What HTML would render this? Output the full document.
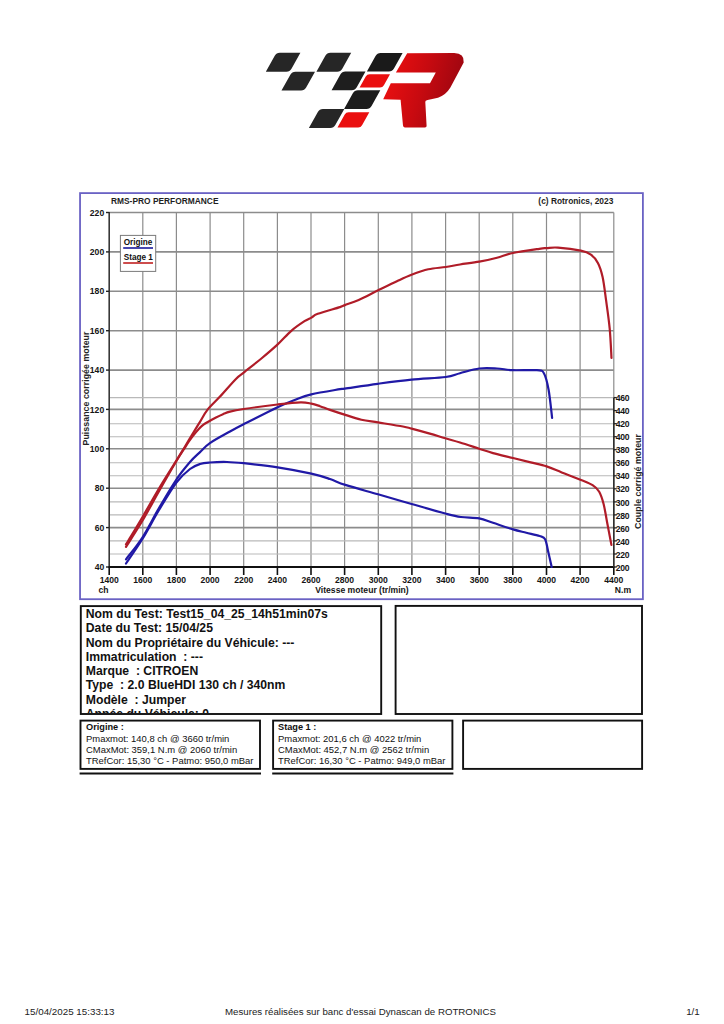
<!DOCTYPE html>
<html><head><meta charset="utf-8"><title>Dyno report</title>
<style>html,body{margin:0;padding:0;background:#fff;width:724px;height:1024px;overflow:hidden}svg{display:block;font-family:"Liberation Sans",sans-serif}</style>
</head><body>
<svg width="724" height="1024" viewBox="0 0 724 1024" font-family="Liberation Sans, sans-serif">
<defs><linearGradient id="rg" x1="0" y1="0" x2="1" y2="0.25"><stop offset="0" stop-color="#f21010"/><stop offset="0.55" stop-color="#c80a10"/><stop offset="1" stop-color="#9e0610"/></linearGradient><linearGradient id="bg" x1="0" y1="0" x2="1" y2="0"><stop offset="0" stop-color="#2c2c2c"/><stop offset="1" stop-color="#121212"/></linearGradient></defs>
<path d="M279.80,52.80 L300.40,52.80 L291.48,68.73 Q289.82,71.70 286.42,71.70 L265.82,71.70 L274.74,55.77 Q276.40,52.80 279.80,52.80 Z" fill="#262626"/>
<path d="M330.40,52.80 L351.20,52.80 L342.28,68.73 Q340.62,71.70 337.22,71.70 L316.42,71.70 L325.34,55.77 Q327.00,52.80 330.40,52.80 Z" fill="#262626"/>
<path d="M380.60,53.00 L402.60,53.00 L393.96,68.43 Q392.30,71.40 388.90,71.40 L366.90,71.40 L375.54,55.97 Q377.20,53.00 380.60,53.00 Z" fill="#1a1a1a"/>
<path d="M295.40,71.70 L315.00,71.70 L306.13,87.53 Q304.47,90.50 301.07,90.50 L281.47,90.50 L290.34,74.67 Q292.00,71.70 295.40,71.70 Z" fill="#262626"/>
<path d="M345.40,71.60 L365.50,71.60 L356.75,87.23 Q355.08,90.20 351.68,90.20 L331.58,90.20 L340.34,74.57 Q342.00,71.60 345.40,71.60 Z" fill="#1e1e1e"/>
<path d="M369.60,74.30 L390.00,74.30 L383.88,85.23 Q382.61,87.50 380.01,87.50 L359.61,87.50 L365.73,76.57 Q367.00,74.30 369.60,74.30 Z" fill="#ea0f0f"/>
<path d="M357.90,90.30 L380.30,90.30 L371.55,105.93 Q369.88,108.90 366.48,108.90 L344.08,108.90 L352.84,93.27 Q354.50,90.30 357.90,90.30 Z" fill="#1c1c1c"/>
<path d="M322.90,109.00 L344.30,109.00 L335.32,125.03 Q333.66,128.00 330.26,128.00 L308.86,128.00 L317.84,111.97 Q319.50,109.00 322.90,109.00 Z" fill="#262626"/>
<path d="M348.60,112.20 L369.30,112.20 L362.06,125.13 Q360.79,127.40 358.19,127.40 L337.49,127.40 L344.73,114.47 Q346.00,112.20 348.60,112.20 Z" fill="#ea0f0f"/>
<path d="M407.2,53.2 L454.2,53.1 Q464.5,53.3 463.7,62.5 L450.4,87.6 Q446,95 438,97.8 L427.6,99.9 Q425,100.3 425.3,102 L426.6,126 Q426.6,127.4 425,127.4 L405,127.4 Q403.2,127.4 403,125.5 L400.6,99.8 L383.2,99.3 L390.8,83.3 L430.0,83.2 L435.8,72.6 L395.9,72.6 Z" fill="url(#rg)"/>
<rect x="80.05" y="193.1" width="562.85" height="406.1" fill="none" stroke="#6a62c4" stroke-width="1.8"/>
<line x1="142.8" y1="212.5" x2="142.8" y2="567.0" stroke="#8c8c8c" stroke-width="1.2"/>
<line x1="176.4" y1="212.5" x2="176.4" y2="567.0" stroke="#8c8c8c" stroke-width="1.2"/>
<line x1="210.1" y1="212.5" x2="210.1" y2="567.0" stroke="#8c8c8c" stroke-width="1.2"/>
<line x1="243.7" y1="212.5" x2="243.7" y2="567.0" stroke="#8c8c8c" stroke-width="1.2"/>
<line x1="277.4" y1="212.5" x2="277.4" y2="567.0" stroke="#8c8c8c" stroke-width="1.2"/>
<line x1="311.0" y1="212.5" x2="311.0" y2="567.0" stroke="#8c8c8c" stroke-width="1.2"/>
<line x1="344.6" y1="212.5" x2="344.6" y2="567.0" stroke="#8c8c8c" stroke-width="1.2"/>
<line x1="378.3" y1="212.5" x2="378.3" y2="567.0" stroke="#8c8c8c" stroke-width="1.2"/>
<line x1="411.9" y1="212.5" x2="411.9" y2="567.0" stroke="#8c8c8c" stroke-width="1.2"/>
<line x1="445.6" y1="212.5" x2="445.6" y2="567.0" stroke="#8c8c8c" stroke-width="1.2"/>
<line x1="479.2" y1="212.5" x2="479.2" y2="567.0" stroke="#8c8c8c" stroke-width="1.2"/>
<line x1="512.8" y1="212.5" x2="512.8" y2="567.0" stroke="#8c8c8c" stroke-width="1.2"/>
<line x1="546.5" y1="212.5" x2="546.5" y2="567.0" stroke="#8c8c8c" stroke-width="1.2"/>
<line x1="580.1" y1="212.5" x2="580.1" y2="567.0" stroke="#8c8c8c" stroke-width="1.2"/>
<line x1="613.8" y1="212.5" x2="613.8" y2="567.0" stroke="#8c8c8c" stroke-width="1.2"/>
<line x1="109.2" y1="554.0" x2="613.8" y2="554.0" stroke="#b9b9b9" stroke-width="1.1"/>
<line x1="109.2" y1="540.9" x2="613.8" y2="540.9" stroke="#b9b9b9" stroke-width="1.1"/>
<line x1="109.2" y1="514.9" x2="613.8" y2="514.9" stroke="#b9b9b9" stroke-width="1.1"/>
<line x1="109.2" y1="501.9" x2="613.8" y2="501.9" stroke="#b9b9b9" stroke-width="1.1"/>
<line x1="109.2" y1="475.8" x2="613.8" y2="475.8" stroke="#b9b9b9" stroke-width="1.1"/>
<line x1="109.2" y1="462.8" x2="613.8" y2="462.8" stroke="#b9b9b9" stroke-width="1.1"/>
<line x1="109.2" y1="436.7" x2="613.8" y2="436.7" stroke="#b9b9b9" stroke-width="1.1"/>
<line x1="109.2" y1="423.7" x2="613.8" y2="423.7" stroke="#b9b9b9" stroke-width="1.1"/>
<line x1="109.2" y1="397.6" x2="613.8" y2="397.6" stroke="#b9b9b9" stroke-width="1.1"/>
<line x1="109.2" y1="527.6" x2="613.8" y2="527.6" stroke="#8c8c8c" stroke-width="1.6"/>
<line x1="109.2" y1="488.2" x2="613.8" y2="488.2" stroke="#8c8c8c" stroke-width="1.6"/>
<line x1="109.2" y1="448.8" x2="613.8" y2="448.8" stroke="#8c8c8c" stroke-width="1.6"/>
<line x1="109.2" y1="409.4" x2="613.8" y2="409.4" stroke="#8c8c8c" stroke-width="1.6"/>
<line x1="109.2" y1="370.1" x2="613.8" y2="370.1" stroke="#8c8c8c" stroke-width="1.6"/>
<line x1="109.2" y1="330.7" x2="613.8" y2="330.7" stroke="#8c8c8c" stroke-width="1.6"/>
<line x1="109.2" y1="291.3" x2="613.8" y2="291.3" stroke="#8c8c8c" stroke-width="1.6"/>
<line x1="109.2" y1="251.9" x2="613.8" y2="251.9" stroke="#8c8c8c" stroke-width="1.6"/>
<line x1="109.2" y1="212.5" x2="613.8" y2="212.5" stroke="#8c8c8c" stroke-width="1.6"/>
<line x1="109.2" y1="212.0" x2="109.2" y2="567.0" stroke="#383838" stroke-width="1.6"/>
<line x1="108.4" y1="567.0" x2="614.5" y2="567.0" stroke="#101010" stroke-width="1.8"/>
<line x1="613.8" y1="397.6" x2="613.8" y2="567.0" stroke="#303030" stroke-width="1.6"/>
<line x1="106.0" y1="567.0" x2="109.2" y2="567.0" stroke="#222" stroke-width="1.4"/>
<text x="104.2" y="570.1" text-anchor="end" font-size="8.6" font-weight="bold" fill="#151515">40</text>
<line x1="106.0" y1="527.6" x2="109.2" y2="527.6" stroke="#222" stroke-width="1.4"/>
<text x="104.2" y="530.7" text-anchor="end" font-size="8.6" font-weight="bold" fill="#151515">60</text>
<line x1="106.0" y1="488.2" x2="109.2" y2="488.2" stroke="#222" stroke-width="1.4"/>
<text x="104.2" y="491.3" text-anchor="end" font-size="8.6" font-weight="bold" fill="#151515">80</text>
<line x1="106.0" y1="448.8" x2="109.2" y2="448.8" stroke="#222" stroke-width="1.4"/>
<text x="104.2" y="451.9" text-anchor="end" font-size="8.6" font-weight="bold" fill="#151515">100</text>
<line x1="106.0" y1="409.4" x2="109.2" y2="409.4" stroke="#222" stroke-width="1.4"/>
<text x="104.2" y="412.5" text-anchor="end" font-size="8.6" font-weight="bold" fill="#151515">120</text>
<line x1="106.0" y1="370.1" x2="109.2" y2="370.1" stroke="#222" stroke-width="1.4"/>
<text x="104.2" y="373.2" text-anchor="end" font-size="8.6" font-weight="bold" fill="#151515">140</text>
<line x1="106.0" y1="330.7" x2="109.2" y2="330.7" stroke="#222" stroke-width="1.4"/>
<text x="104.2" y="333.8" text-anchor="end" font-size="8.6" font-weight="bold" fill="#151515">160</text>
<line x1="106.0" y1="291.3" x2="109.2" y2="291.3" stroke="#222" stroke-width="1.4"/>
<text x="104.2" y="294.4" text-anchor="end" font-size="8.6" font-weight="bold" fill="#151515">180</text>
<line x1="106.0" y1="251.9" x2="109.2" y2="251.9" stroke="#222" stroke-width="1.4"/>
<text x="104.2" y="255.0" text-anchor="end" font-size="8.6" font-weight="bold" fill="#151515">200</text>
<line x1="106.0" y1="212.5" x2="109.2" y2="212.5" stroke="#222" stroke-width="1.4"/>
<text x="104.2" y="215.6" text-anchor="end" font-size="8.6" font-weight="bold" fill="#151515">220</text>
<line x1="109.2" y1="567.0" x2="109.2" y2="575.0" stroke="#111" stroke-width="1.6"/>
<text x="109.2" y="583.2" text-anchor="middle" font-size="8.6" font-weight="bold" fill="#151515">1400</text>
<line x1="142.8" y1="567.0" x2="142.8" y2="575.0" stroke="#111" stroke-width="1.6"/>
<text x="142.8" y="583.2" text-anchor="middle" font-size="8.6" font-weight="bold" fill="#151515">1600</text>
<line x1="176.4" y1="567.0" x2="176.4" y2="575.0" stroke="#111" stroke-width="1.6"/>
<text x="176.4" y="583.2" text-anchor="middle" font-size="8.6" font-weight="bold" fill="#151515">1800</text>
<line x1="210.1" y1="567.0" x2="210.1" y2="575.0" stroke="#111" stroke-width="1.6"/>
<text x="210.1" y="583.2" text-anchor="middle" font-size="8.6" font-weight="bold" fill="#151515">2000</text>
<line x1="243.7" y1="567.0" x2="243.7" y2="575.0" stroke="#111" stroke-width="1.6"/>
<text x="243.7" y="583.2" text-anchor="middle" font-size="8.6" font-weight="bold" fill="#151515">2200</text>
<line x1="277.4" y1="567.0" x2="277.4" y2="575.0" stroke="#111" stroke-width="1.6"/>
<text x="277.4" y="583.2" text-anchor="middle" font-size="8.6" font-weight="bold" fill="#151515">2400</text>
<line x1="311.0" y1="567.0" x2="311.0" y2="575.0" stroke="#111" stroke-width="1.6"/>
<text x="311.0" y="583.2" text-anchor="middle" font-size="8.6" font-weight="bold" fill="#151515">2600</text>
<line x1="344.6" y1="567.0" x2="344.6" y2="575.0" stroke="#111" stroke-width="1.6"/>
<text x="344.6" y="583.2" text-anchor="middle" font-size="8.6" font-weight="bold" fill="#151515">2800</text>
<line x1="378.3" y1="567.0" x2="378.3" y2="575.0" stroke="#111" stroke-width="1.6"/>
<text x="378.3" y="583.2" text-anchor="middle" font-size="8.6" font-weight="bold" fill="#151515">3000</text>
<line x1="411.9" y1="567.0" x2="411.9" y2="575.0" stroke="#111" stroke-width="1.6"/>
<text x="411.9" y="583.2" text-anchor="middle" font-size="8.6" font-weight="bold" fill="#151515">3200</text>
<line x1="445.6" y1="567.0" x2="445.6" y2="575.0" stroke="#111" stroke-width="1.6"/>
<text x="445.6" y="583.2" text-anchor="middle" font-size="8.6" font-weight="bold" fill="#151515">3400</text>
<line x1="479.2" y1="567.0" x2="479.2" y2="575.0" stroke="#111" stroke-width="1.6"/>
<text x="479.2" y="583.2" text-anchor="middle" font-size="8.6" font-weight="bold" fill="#151515">3600</text>
<line x1="512.8" y1="567.0" x2="512.8" y2="575.0" stroke="#111" stroke-width="1.6"/>
<text x="512.8" y="583.2" text-anchor="middle" font-size="8.6" font-weight="bold" fill="#151515">3800</text>
<line x1="546.5" y1="567.0" x2="546.5" y2="575.0" stroke="#111" stroke-width="1.6"/>
<text x="546.5" y="583.2" text-anchor="middle" font-size="8.6" font-weight="bold" fill="#151515">4000</text>
<line x1="580.1" y1="567.0" x2="580.1" y2="575.0" stroke="#111" stroke-width="1.6"/>
<text x="580.1" y="583.2" text-anchor="middle" font-size="8.6" font-weight="bold" fill="#151515">4200</text>
<line x1="613.8" y1="567.0" x2="613.8" y2="575.0" stroke="#111" stroke-width="1.6"/>
<text x="613.8" y="583.2" text-anchor="middle" font-size="8.6" font-weight="bold" fill="#151515">4400</text>
<line x1="613.8" y1="567.0" x2="616.8" y2="567.0" stroke="#222" stroke-width="1.3"/>
<text x="615.8" y="570.6" font-size="8.6" font-weight="bold" fill="#151515" letter-spacing="-0.3">200</text>
<line x1="613.8" y1="554.0" x2="616.8" y2="554.0" stroke="#222" stroke-width="1.3"/>
<text x="615.8" y="557.6" font-size="8.6" font-weight="bold" fill="#151515" letter-spacing="-0.3">220</text>
<line x1="613.8" y1="540.9" x2="616.8" y2="540.9" stroke="#222" stroke-width="1.3"/>
<text x="615.8" y="544.5" font-size="8.6" font-weight="bold" fill="#151515" letter-spacing="-0.3">240</text>
<line x1="613.8" y1="527.9" x2="616.8" y2="527.9" stroke="#222" stroke-width="1.3"/>
<text x="615.8" y="531.5" font-size="8.6" font-weight="bold" fill="#151515" letter-spacing="-0.3">260</text>
<line x1="613.8" y1="514.9" x2="616.8" y2="514.9" stroke="#222" stroke-width="1.3"/>
<text x="615.8" y="518.5" font-size="8.6" font-weight="bold" fill="#151515" letter-spacing="-0.3">280</text>
<line x1="613.8" y1="501.9" x2="616.8" y2="501.9" stroke="#222" stroke-width="1.3"/>
<text x="615.8" y="505.5" font-size="8.6" font-weight="bold" fill="#151515" letter-spacing="-0.3">300</text>
<line x1="613.8" y1="488.8" x2="616.8" y2="488.8" stroke="#222" stroke-width="1.3"/>
<text x="615.8" y="492.4" font-size="8.6" font-weight="bold" fill="#151515" letter-spacing="-0.3">320</text>
<line x1="613.8" y1="475.8" x2="616.8" y2="475.8" stroke="#222" stroke-width="1.3"/>
<text x="615.8" y="479.4" font-size="8.6" font-weight="bold" fill="#151515" letter-spacing="-0.3">340</text>
<line x1="613.8" y1="462.8" x2="616.8" y2="462.8" stroke="#222" stroke-width="1.3"/>
<text x="615.8" y="466.4" font-size="8.6" font-weight="bold" fill="#151515" letter-spacing="-0.3">360</text>
<line x1="613.8" y1="449.7" x2="616.8" y2="449.7" stroke="#222" stroke-width="1.3"/>
<text x="615.8" y="453.3" font-size="8.6" font-weight="bold" fill="#151515" letter-spacing="-0.3">380</text>
<line x1="613.8" y1="436.7" x2="616.8" y2="436.7" stroke="#222" stroke-width="1.3"/>
<text x="615.8" y="440.3" font-size="8.6" font-weight="bold" fill="#151515" letter-spacing="-0.3">400</text>
<line x1="613.8" y1="423.7" x2="616.8" y2="423.7" stroke="#222" stroke-width="1.3"/>
<text x="615.8" y="427.3" font-size="8.6" font-weight="bold" fill="#151515" letter-spacing="-0.3">420</text>
<line x1="613.8" y1="410.6" x2="616.8" y2="410.6" stroke="#222" stroke-width="1.3"/>
<text x="615.8" y="414.2" font-size="8.6" font-weight="bold" fill="#151515" letter-spacing="-0.3">440</text>
<line x1="613.8" y1="397.6" x2="616.8" y2="397.6" stroke="#222" stroke-width="1.3"/>
<text x="615.8" y="401.2" font-size="8.6" font-weight="bold" fill="#151515" letter-spacing="-0.3">460</text>
<text x="111" y="204.2" font-size="8.4" font-weight="bold" fill="#1e1e1e">RMS-PRO PERFORMANCE</text>
<text x="613.3" y="204.2" text-anchor="end" font-size="8.4" font-weight="bold" fill="#1e1e1e">(c) Rotronics, 2023</text>
<text x="98.5" y="593.2" font-size="8.6" font-weight="bold" fill="#151515">ch</text>
<text x="614.8" y="593.2" font-size="8.6" font-weight="bold" fill="#151515">N.m</text>
<text x="362" y="592.5" text-anchor="middle" font-size="8.6" font-weight="bold" fill="#151515">Vitesse moteur (tr/min)</text>
<text transform="translate(88.6,388.5) rotate(-90)" text-anchor="middle" font-size="8.9" font-weight="bold" fill="#222">Puissance corrigée moteur</text>
<text transform="translate(641.4,481.5) rotate(-90)" text-anchor="middle" font-size="8.85" font-weight="bold" fill="#222">Couple corrigé moteur</text>
<path d="M126.00,563.50 C128.73,559.42 136.90,547.92 142.40,539.00 C147.90,530.08 153.33,519.42 159.00,510.00 C164.67,500.58 171.23,489.33 176.40,482.50 C181.57,475.67 186.07,472.08 190.00,469.00 C193.93,465.92 196.68,465.08 200.00,464.00 C203.32,462.92 205.40,462.83 209.90,462.50 C214.40,462.17 221.38,461.88 227.00,462.00 C232.62,462.12 235.17,462.32 243.60,463.20 C252.03,464.08 266.32,465.57 277.60,467.30 C288.88,469.03 302.57,471.65 311.30,473.60 C320.03,475.55 324.33,477.12 330.00,479.00 C335.67,480.88 337.30,482.35 345.30,484.90 C353.30,487.45 366.95,491.12 378.00,494.30 C389.05,497.48 400.38,500.80 411.60,504.00 C422.82,507.20 437.08,511.33 445.30,513.50 C453.52,515.67 455.25,516.20 460.90,517.00 C466.55,517.80 473.85,517.33 479.20,518.30 C484.55,519.27 487.37,520.95 493.00,522.80 C498.63,524.65 507.45,527.75 513.00,529.40 C518.55,531.05 521.87,531.60 526.30,532.70 C530.73,533.80 536.47,534.90 539.60,536.00 C542.73,537.10 543.63,536.53 545.10,539.30 C546.57,542.07 547.30,547.98 548.40,552.60 C549.50,557.22 551.15,564.60 551.70,567.00" fill="none" stroke="#2019a6" stroke-width="2.2" stroke-linejoin="round" stroke-linecap="round"/>
<path d="M126.00,559.30 C128.73,555.67 136.90,546.05 142.40,537.50 C147.90,528.95 153.33,517.67 159.00,508.00 C164.67,498.33 171.23,487.17 176.40,479.50 C181.57,471.83 186.07,466.57 190.00,462.00 C193.93,457.43 196.68,455.25 200.00,452.10 C203.32,448.95 204.90,446.53 209.90,443.10 C214.90,439.67 224.38,434.63 230.00,431.50 C235.62,428.37 235.67,428.35 243.60,424.30 C251.53,420.25 269.10,411.25 277.60,407.20 C286.10,403.15 288.98,402.13 294.60,400.00 C300.22,397.87 303.73,396.20 311.30,394.40 C318.87,392.60 334.42,390.17 340.00,389.20 C345.58,388.23 338.53,389.50 344.80,388.60 C351.07,387.70 366.48,385.30 377.60,383.80 C388.72,382.30 400.15,380.73 411.50,379.60 C422.85,378.47 437.62,378.07 445.70,377.00 C453.78,375.93 454.40,374.62 460.00,373.20 C465.60,371.78 473.13,369.28 479.30,368.50 C485.47,367.72 491.40,368.22 497.00,368.50 C502.60,368.78 506.25,369.92 512.90,370.20 C519.55,370.48 531.73,369.70 536.90,370.20 C542.07,370.70 541.95,369.95 543.90,373.20 C545.85,376.45 547.23,382.27 548.60,389.70 C549.97,397.13 551.52,413.12 552.10,417.80" fill="none" stroke="#2019a6" stroke-width="2.2" stroke-linejoin="round" stroke-linecap="round"/>
<path d="M126.00,546.90 C128.73,542.55 136.90,530.08 142.40,520.80 C147.90,511.52 153.33,501.17 159.00,491.20 C164.67,481.23 172.33,467.87 176.40,461.00 C180.47,454.13 181.43,453.08 183.40,450.00 C185.37,446.92 186.60,444.87 188.20,442.50 C189.80,440.13 191.23,438.07 193.00,435.80 C194.77,433.53 197.05,430.75 198.80,428.90 C200.55,427.05 201.72,426.02 203.50,424.70 C205.28,423.38 207.42,422.20 209.50,421.00 C211.58,419.80 213.75,418.63 216.00,417.50 C218.25,416.37 220.67,415.18 223.00,414.20 C225.33,413.22 226.57,412.47 230.00,411.60 C233.43,410.73 235.67,410.18 243.60,409.00 C251.53,407.82 268.12,405.62 277.60,404.50 C287.08,403.38 294.88,402.45 300.50,402.30 C306.12,402.15 308.05,402.95 311.30,403.60 C314.55,404.25 316.88,405.15 320.00,406.20 C323.12,407.25 325.78,408.45 330.00,409.90 C334.22,411.35 340.07,413.27 345.30,414.90 C350.53,416.53 355.95,418.45 361.40,419.70 C366.85,420.95 371.08,421.27 378.00,422.40 C384.92,423.53 397.30,425.47 402.90,426.50 C408.50,427.53 407.12,427.42 411.60,428.60 C416.08,429.78 424.18,431.98 429.80,433.60 C435.42,435.22 440.27,436.82 445.30,438.30 C450.33,439.78 454.35,440.77 460.00,442.50 C465.65,444.23 473.70,446.93 479.20,448.70 C484.70,450.47 487.37,451.55 493.00,453.10 C498.63,454.65 506.72,456.45 513.00,458.00 C519.28,459.55 525.10,461.00 530.70,462.40 C536.30,463.80 541.43,464.73 546.60,466.40 C551.77,468.07 556.07,470.18 561.70,472.40 C567.33,474.62 575.25,477.57 580.40,479.70 C585.55,481.83 589.47,483.18 592.60,485.20 C595.73,487.22 597.37,488.67 599.20,491.80 C601.03,494.93 602.30,499.02 603.60,504.00 C604.90,508.98 605.70,514.88 607.00,521.70 C608.30,528.52 610.67,541.03 611.40,544.90" fill="none" stroke="#b01c28" stroke-width="2.2" stroke-linejoin="round" stroke-linecap="round"/>
<path d="M126.00,544.40 C128.73,539.87 136.90,526.52 142.40,517.20 C147.90,507.88 153.33,497.93 159.00,488.50 C164.67,479.07 172.33,467.15 176.40,460.60 C180.47,454.05 180.47,454.03 183.40,449.20 C186.33,444.37 191.23,436.17 194.00,431.60 C196.77,427.03 197.73,425.47 200.00,421.80 C202.27,418.13 204.27,413.80 207.60,409.60 C210.93,405.40 215.32,401.67 220.00,396.60 C224.68,391.53 231.75,383.20 235.70,379.20 C239.65,375.20 239.42,376.05 243.70,372.60 C247.98,369.15 255.73,363.20 261.40,358.50 C267.07,353.80 272.72,349.02 277.70,344.40 C282.68,339.78 286.83,334.67 291.30,330.80 C295.77,326.93 301.13,323.40 304.50,321.20 C307.87,319.00 309.28,318.83 311.50,317.60 C313.72,316.37 313.05,315.55 317.80,313.80 C322.55,312.05 335.50,308.55 340.00,307.10 C344.50,305.65 341.68,306.30 344.80,305.10 C347.92,303.90 353.23,302.32 358.70,299.90 C364.17,297.48 371.15,293.75 377.60,290.60 C384.05,287.45 391.75,283.63 397.40,281.00 C403.05,278.37 406.35,276.75 411.50,274.80 C416.65,272.85 422.60,270.60 428.30,269.30 C434.00,268.00 440.42,267.80 445.70,267.00 C450.98,266.20 454.40,265.38 460.00,264.50 C465.60,263.62 473.13,262.83 479.30,261.70 C485.47,260.57 491.40,259.15 497.00,257.70 C502.60,256.25 505.87,254.48 512.90,253.00 C519.93,251.52 533.57,249.62 539.20,248.80 C544.83,247.98 543.57,248.30 546.70,248.10 C549.83,247.90 552.32,247.17 558.00,247.60 C563.68,248.03 575.32,249.52 580.80,250.70 C586.28,251.88 588.05,252.67 590.90,254.70 C593.75,256.73 595.95,259.18 597.90,262.90 C599.85,266.62 601.23,270.75 602.60,277.00 C603.97,283.25 604.92,291.80 606.10,300.40 C607.28,309.00 608.80,319.00 609.70,328.60 C610.60,338.20 611.20,353.10 611.50,358.00" fill="none" stroke="#b01c28" stroke-width="2.2" stroke-linejoin="round" stroke-linecap="round"/>
<rect x="120.4" y="235.4" width="35.3" height="36" fill="#fff" stroke="#7a7a7a" stroke-width="1"/>
<text x="123.7" y="245.4" font-size="8.2" font-weight="bold" fill="#111">Origine</text>
<line x1="123.2" y1="248" x2="153" y2="248" stroke="#1a1a9c" stroke-width="1.6"/>
<text x="123.7" y="260.3" font-size="8.2" font-weight="bold" fill="#111">Stage 1</text>
<line x1="123.2" y1="263" x2="153" y2="263" stroke="#c02020" stroke-width="1.6"/>
<rect x="80.8" y="606.1" width="300.4" height="107.9" fill="none" stroke="#111" stroke-width="1.9"/>
<rect x="395.6" y="605.9" width="246.4" height="108.1" fill="none" stroke="#111" stroke-width="1.9"/>
<defs><clipPath id="c1"><rect x="82" y="607" width="298" height="106"/></clipPath></defs>
<g clip-path="url(#c1)">
<text x="85.8" y="618.0" font-size="12.2" font-weight="bold" fill="#111" xml:space="preserve">Nom du Test: Test15_04_25_14h51min07s</text>
<text x="85.8" y="632.3" font-size="12.2" font-weight="bold" fill="#111" xml:space="preserve">Date du Test: 15/04/25</text>
<text x="85.8" y="646.5" font-size="12.2" font-weight="bold" fill="#111" xml:space="preserve">Nom du Propriétaire du Véhicule: ---</text>
<text x="85.8" y="660.8" font-size="12.2" font-weight="bold" fill="#111" xml:space="preserve">Immatriculation  : ---</text>
<text x="85.8" y="675.1" font-size="12.2" font-weight="bold" fill="#111" xml:space="preserve">Marque  : CITROEN</text>
<text x="85.8" y="689.4" font-size="12.2" font-weight="bold" fill="#111" xml:space="preserve">Type  : 2.0 BlueHDI 130 ch / 340nm</text>
<text x="85.8" y="703.6" font-size="12.2" font-weight="bold" fill="#111" xml:space="preserve">Modèle  : Jumper</text>
<text x="85.8" y="717.9" font-size="12.2" font-weight="bold" fill="#111" xml:space="preserve">Année du Véhicule: 0</text>
</g>
<rect x="80.5" y="720.6" width="179.5" height="48.3" fill="none" stroke="#111" stroke-width="1.9"/>
<rect x="273.1" y="720.6" width="179.3" height="48.3" fill="none" stroke="#111" stroke-width="1.9"/>
<rect x="463.1" y="720.6" width="179" height="48.3" fill="none" stroke="#111" stroke-width="1.9"/>
<line x1="79.6" y1="773.5" x2="261" y2="773.5" stroke="#111" stroke-width="1.8"/>
<line x1="272.2" y1="773.5" x2="453.4" y2="773.5" stroke="#111" stroke-width="1.8"/>
<text x="86" y="730.4" font-size="9.2" font-weight="bold" fill="#111">Origine :</text>
<text x="278" y="730.4" font-size="9.2" font-weight="bold" fill="#111">Stage 1 :</text>
<text x="86" y="741.5" font-size="9.45" fill="#111">Pmaxmot: 140,8 ch @ 3660 tr/min</text>
<text x="278" y="741.5" font-size="9.45" fill="#111">Pmaxmot: 201,6 ch @ 4022 tr/min</text>
<text x="86" y="752.5" font-size="9.45" fill="#111">CMaxMot: 359,1 N.m @ 2060 tr/min</text>
<text x="278" y="752.5" font-size="9.45" fill="#111">CMaxMot: 452,7 N.m @ 2562 tr/min</text>
<text x="86" y="763.6" font-size="9.45" fill="#111">TRefCor: 15,30 °C - Patmo: 950,0 mBar</text>
<text x="278" y="763.6" font-size="9.45" fill="#111">TRefCor: 16,30 °C - Patmo: 949,0 mBar</text>
<text x="24.6" y="1014.9" font-size="9.8" fill="#222">15/04/2025 15:33:13</text>
<text x="360.5" y="1014.9" text-anchor="middle" font-size="9.7" fill="#222">Mesures réalisées sur banc d'essai Dynascan de ROTRONICS</text>
<text x="699.8" y="1014.9" text-anchor="end" font-size="9.8" fill="#222">1/1</text>
</svg>
</body></html>
